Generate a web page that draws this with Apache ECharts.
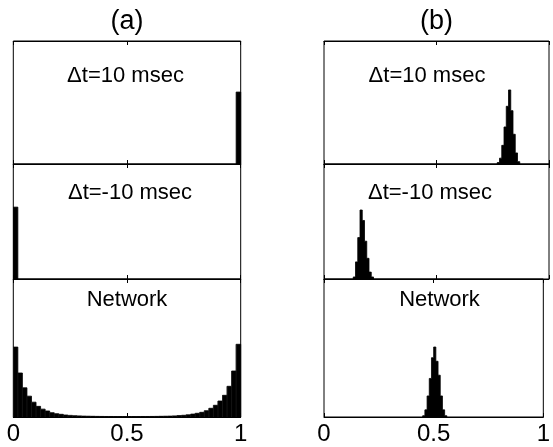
<!DOCTYPE html>
<html><head><meta charset="utf-8">
<script src="https://cdn.jsdelivr.net/npm/echarts@6/dist/echarts.min.js"></script>
<style>html,body{margin:0;padding:0;background:#fff}#c{width:553px;height:447px}</style>
</head><body><div id="c"></div>
<script>
// ---- data ----
const xTicks = [0, 0.5, 1];
const columnTitles = ['(a)', '(b)'];
const rowLabels = ['\u0394t=10 msec', '\u0394t=-10 msec', 'Network'];

// (a) bins of width 0.02
const binWidthA = 0.02;
const aTopStart = 0.98;
const aTopValues = [1.0];
const aMidStart = 0.0;
const aMidValues = [1.0];
const aNetStart = 0.0;
const aNetValues = [
  0.151, 0.095, 0.063, 0.045, 0.032, 0.023, 0.017, 0.013, 0.0093, 0.0071,
  0.0058, 0.0043, 0.0035, 0.0028, 0.0024, 0.0019, 0.0017, 0.0015, 0.0013, 0.0012,
  0.0011, 0.0011, 0.0010, 0.0010, 0.0010,
  0.0010, 0.0010, 0.0010, 0.0011, 0.0011, 0.0012, 0.0013, 0.0015, 0.0017, 0.0019,
  0.0024, 0.0030, 0.0037, 0.0047, 0.0063, 0.0080, 0.0101, 0.0136, 0.0188, 0.0253,
  0.0345, 0.0468, 0.0663, 0.0993, 0.157
];

// (b) bins of width 0.01
const binWidthB = 0.01;
const bTopStart = 0.77;
const bTopValues = [0.005, 0.020, 0.064, 0.127, 0.198, 0.254, 0.183, 0.102, 0.038, 0.008];
const bMidStart = 0.13;
const bMidValues = [0.008, 0.067, 0.162, 0.270, 0.229, 0.148, 0.081, 0.027, 0.008];
const bNetStart = 0.45;
const bNetValues = [0.004, 0.022, 0.065, 0.119, 0.183, 0.216, 0.172, 0.129, 0.065, 0.022, 0.004];

// y-axis upper limits per panel
const yMaxA = [1.71, 1.60, 0.298];
const yMaxB = [0.422, 0.450, 0.426];

// ---- layout ----
const cols = [{left: 13.3, width: 227.4}, {left: 324, width: 225}];
const rows = [{top: 41, height: 123}, {top: 164, height: 115}, {top: 279, height: 138}];

const panels = [
  {col: 0, row: 0, start: aTopStart, vals: aTopValues, w: binWidthA, ymax: yMaxA[0], outline: false},
  {col: 0, row: 1, start: aMidStart, vals: aMidValues, w: binWidthA, ymax: yMaxA[1], outline: false},
  {col: 0, row: 2, start: aNetStart, vals: aNetValues, w: binWidthA, ymax: yMaxA[2], outline: true},
  {col: 1, row: 0, start: bTopStart, vals: bTopValues, w: binWidthB, ymax: yMaxB[0], outline: false},
  {col: 1, row: 1, start: bMidStart, vals: bMidValues, w: binWidthB, ymax: yMaxB[1], outline: false},
  {col: 1, row: 2, start: bNetStart, vals: bNetValues, w: binWidthB, ymax: yMaxB[2], outline: false}
];

const FONT = 'Liberation Sans, Arial, Helvetica, sans-serif';
const grid = [], xAxis = [], yAxis = [], series = [];

panels.forEach((p, i) => {
  const c = cols[p.col], r = rows[p.row];
  grid.push({left: c.left, top: r.top, width: c.width, height: r.height,
    show: true, borderColor: '#000', borderWidth: 1, backgroundColor: 'transparent'});
  const isBottom = p.row === 2;
  const base = {gridIndex: i, type: 'value', min: xTicks[0], max: xTicks[xTicks.length - 1],
    interval: xTicks[1] - xTicks[0],
    axisLine: {show: true, lineStyle: {color: '#000', width: 1}},
    axisTick: {show: true, inside: true, length: 4, lineStyle: {color: '#000', width: 1}},
    splitLine: {show: false}};
  xAxis.push(Object.assign({}, base, {position: 'bottom',
    axisLabel: {show: isBottom, color: '#000', fontSize: 24, fontFamily: FONT, margin: 5}}));
  xAxis.push(Object.assign({}, base, {position: 'top', axisLabel: {show: false}}));
  yAxis.push({gridIndex: i, type: 'value', min: 0, max: p.ymax, show: false,
    splitLine: {show: false}});
  const data = p.vals.map((v, k) => {
    const x0 = +(p.start + k * p.w).toFixed(4);
    return [x0, +(x0 + p.w).toFixed(4), v];
  });
  // whole histogram as one stepped polygon (no seams between bins)
  series.push({type: 'custom', xAxisIndex: 2 * i, yAxisIndex: i, data: data,
    encode: {x: [0, 1], y: 2}, clip: true, silent: true,
    renderItem: function (params, api) {
      if (params.dataIndex !== 0) return null;
      const pts = [api.coord([data[0][0], 0])];
      data.forEach(d => {
        pts.push(api.coord([d[0], d[2]]));
        pts.push(api.coord([d[1], d[2]]));
      });
      pts.push(api.coord([data[data.length - 1][1], 0]));
      const children = [{type: 'polygon', shape: {points: pts},
        style: {fill: '#000', stroke: '#000', lineWidth: 0.8}}];
      if (p.outline) {
        // faint bin separators like the reference
        data.forEach(d => {
          const a = api.coord([d[0], d[2]]), b = api.coord([d[0], 0]);
          children.push({type: 'line', shape: {x1: a[0], y1: a[1], x2: b[0], y2: b[1]},
            style: {stroke: '#333', lineWidth: 0.4}});
        });
      }
      return {type: 'group', children: children};
    }});
});

// text positions
const labelPos = [
  [125.5, 76], [130, 192.5], [127, 300],
  [427, 76], [430, 192.5], [439.5, 300]
];
const graphic = [];
columnTitles.forEach((t, j) => {
  graphic.push({type: 'text', x: cols[j].left + cols[j].width / 2, y: 22,
    style: {text: t, fontSize: 27, fontFamily: FONT, fill: '#000',
      textAlign: 'center', textVerticalAlign: 'middle'}});
});
panels.forEach((p, i) => {
  graphic.push({type: 'text', x: labelPos[i][0], y: labelPos[i][1],
    style: {text: rowLabels[p.row], fontSize: 22, fontFamily: FONT, fill: '#000',
      textAlign: 'center', textVerticalAlign: 'middle'}});
});

const chart = echarts.init(document.getElementById('c'), null, {renderer: 'canvas'});
chart.setOption({animation: false, backgroundColor: '#fff', grid, xAxis, yAxis, series, graphic});
</script></body></html>
